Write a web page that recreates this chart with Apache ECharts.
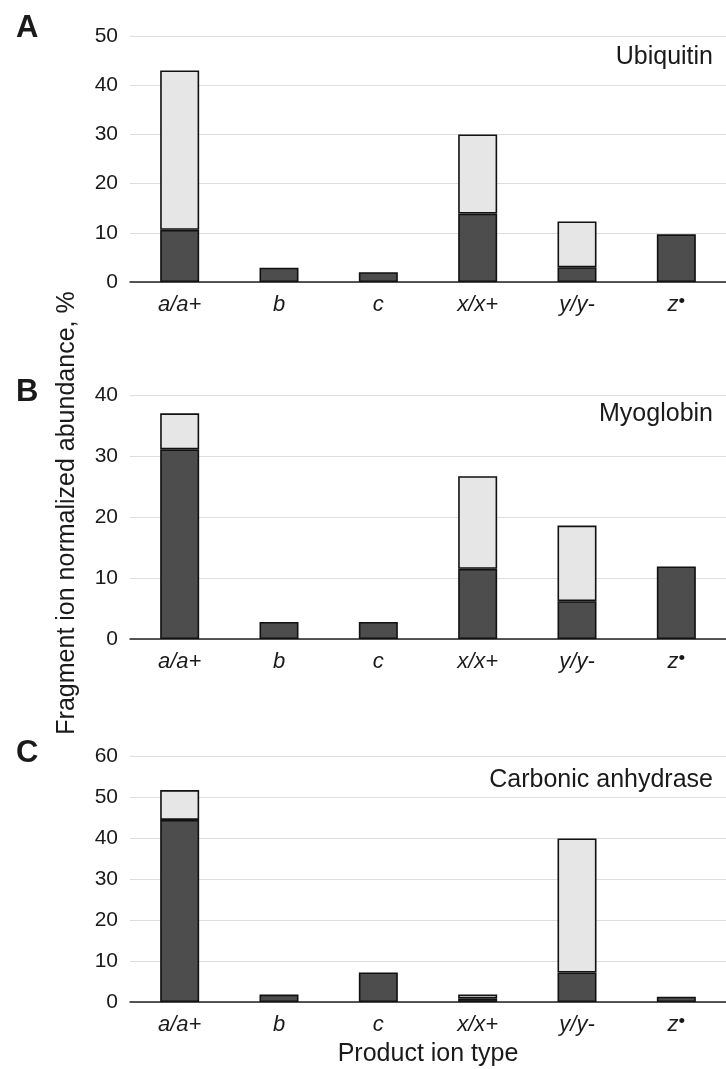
<!DOCTYPE html>
<html>
<head>
<meta charset="utf-8">
<script src="https://cdn.jsdelivr.net/npm/echarts@6/dist/echarts.min.js"></script>
<style>
  html, body { margin: 0; padding: 0; background: #ffffff; }
  #chart { width: 726px; height: 1069px; }
</style>
</head>
<body>
<div id="chart"></div>
<script>
// Product ion types (x axis)
const categories = ['a/a+', 'b', 'c', 'x/x+', 'y/y-', 'z•'];

// Panel titles and letters
const panelLetters = ['A', 'B', 'C'];
const proteins = ['Ubiquitin', 'Myoglobin', 'Carbonic anhydrase'];

// Y-axis ranges per panel
const yMax = [50, 40, 60];
const yInterval = [10, 10, 10];

// Lower (dark) segment of each stacked bar, %
const ubiquitinLower = [10.6, 2.9, 2.0, 13.9, 3.0, 9.7];
const myoglobinLower = [31.1, 2.8, 2.8, 11.5, 6.2, 11.9];
const carbonicLower  = [44.4, 1.8, 7.2, 0.8, 7.2, 1.3];

// Upper (light) segment stacked on top, %
const ubiquitinUpper = [32.4, null, null, 16.1, 9.3, null];
const myoglobinUpper = [5.9, null, null, 15.2, 12.4, null];
const carbonicUpper  = [7.3, null, null, 1.0, 32.7, null];

const lowerSets = [ubiquitinLower, myoglobinLower, carbonicLower];
const upperSets = [ubiquitinUpper, myoglobinUpper, carbonicUpper];

const FONT = '"Liberation Sans", Arial, Helvetica, sans-serif';
const INK = '#1a1a1a';

// Plot-area placement of the three stacked panels
const grids = [
  { left: 130, width: 596, top: 36, height: 246 },
  { left: 130, width: 596, top: 395, height: 244 },
  { left: 130, width: 596, top: 756, height: 246 }
];

function catLabel(v) {
  if (v === 'z•') return '{i|z}{dot|•}';
  return '{i|' + v + '}';
}

const xAxes = grids.map((g, i) => ({
  type: 'category',
  gridIndex: i,
  data: categories,
  axisTick: { show: false },
  axisLine: { lineStyle: { color: '#222', width: 1.5 } },
  axisLabel: {
    margin: 10,
    formatter: catLabel,
    rich: {
      i: { fontFamily: FONT, fontStyle: 'italic', fontSize: 22, lineHeight: 26, color: INK },
      dot: { fontFamily: FONT, fontSize: 19, lineHeight: 16, verticalAlign: 'top', color: INK }
    }
  },
  name: i === 2 ? 'Product ion type' : '',
  nameLocation: 'middle',
  nameGap: 40,
  nameTextStyle: { fontFamily: FONT, fontSize: 25, color: INK }
}));

const yAxes = grids.map((g, i) => ({
  type: 'value',
  gridIndex: i,
  min: 0,
  max: yMax[i],
  interval: yInterval[i],
  axisLine: { show: false },
  axisTick: { show: false },
  splitLine: { lineStyle: { color: '#dddddd', width: 1.2 } },
  axisLabel: { fontFamily: FONT, fontSize: 21, color: INK, margin: 12 }
}));

const series = [];
lowerSets.forEach((vals, i) => {
  series.push({
    name: proteins[i] + ' lower',
    type: 'bar',
    xAxisIndex: i, yAxisIndex: i,
    stack: 'p' + i,
    barWidth: 39,
    data: vals,
    itemStyle: { color: '#4d4d4d', borderColor: '#111111', borderWidth: 1.6 },
    emphasis: { disabled: true }
  });
  series.push({
    name: proteins[i] + ' upper',
    type: 'bar',
    xAxisIndex: i, yAxisIndex: i,
    stack: 'p' + i,
    barWidth: 39,
    data: upperSets[i],
    itemStyle: { color: '#e6e6e6', borderColor: '#111111', borderWidth: 1.6 },
    emphasis: { disabled: true }
  });
});

const titles = [];
const letterTops = [8, 372, 733];
const nameTops = [40, 397, 763];
panelLetters.forEach((L, i) => {
  titles.push({
    text: L, left: 11, top: letterTops[i],
    textStyle: { fontFamily: FONT, fontWeight: 'bold', fontSize: 31, color: INK }
  });
  titles.push({
    text: proteins[i], right: 8, top: nameTops[i],
    textStyle: { fontFamily: FONT, fontWeight: 'normal', fontSize: 25, color: INK }
  });
});

const chart = echarts.init(document.getElementById('chart'), null, { renderer: 'canvas' });
chart.setOption({
  animation: false,
  backgroundColor: '#ffffff',
  title: titles,
  grid: grids,
  xAxis: xAxes,
  yAxis: yAxes,
  series: series,
  graphic: [{
    type: 'text',
    x: 67, y: 513,
    rotation: Math.PI / 2,
    style: {
      text: 'Fragment ion normalized abundance, %',
      fontFamily: FONT, fontSize: 25, fill: INK,
      align: 'center', verticalAlign: 'middle'
    }
  }]
});
</script>
</body>
</html>
